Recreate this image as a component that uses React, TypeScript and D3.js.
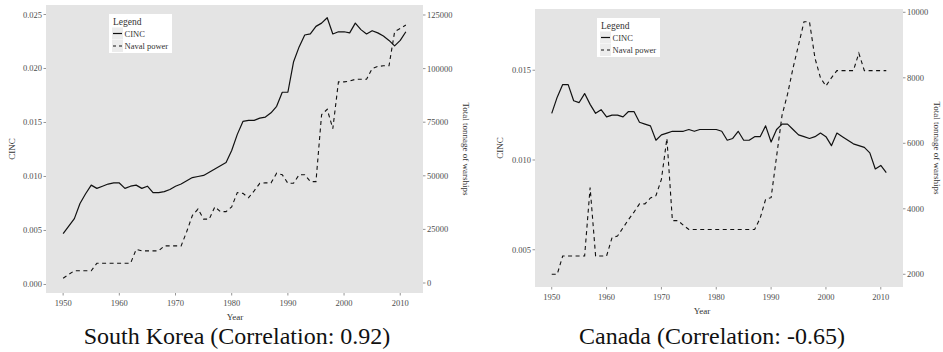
import React from 'react';
import * as d3 from 'd3';

const years = [
  1950, 1951, 1952, 1953, 1954, 1955, 1956, 1957, 1958, 1959,
  1960, 1961, 1962, 1963, 1964, 1965, 1966, 1967, 1968, 1969,
  1970, 1971, 1972, 1973, 1974, 1975, 1976, 1977, 1978, 1979,
  1980, 1981, 1982, 1983, 1984, 1985, 1986, 1987, 1988, 1989,
  1990, 1991, 1992, 1993, 1994, 1995, 1996, 1997, 1998, 1999,
  2000, 2001, 2002, 2003, 2004, 2005, 2006, 2007, 2008, 2009,
  2010, 2011,
];

const koreaCinc = [
  0.0047, 0.0054, 0.0061, 0.0075, 0.0084, 0.0092, 0.0089, 0.0091, 0.0093, 0.0094,
  0.0094, 0.0089, 0.0091, 0.0092, 0.0089, 0.0091, 0.0085, 0.0085, 0.0086, 0.0088,
  0.0091, 0.0093, 0.0096, 0.0099, 0.0100, 0.0101, 0.0104, 0.0107, 0.0110, 0.0113,
  0.0124, 0.0139, 0.0151, 0.0152, 0.0152, 0.0154, 0.0155, 0.0159, 0.0165, 0.0178,
  0.0178, 0.0206, 0.0220, 0.0231, 0.0232, 0.0239, 0.0242, 0.0247, 0.0232, 0.0234,
  0.0234, 0.0233, 0.0242, 0.0236, 0.0232, 0.0235, 0.0233, 0.0230, 0.0226, 0.0221,
  0.0226, 0.0234,
];

const koreaNaval = [
  2200, 4000, 5700, 5700, 5700, 5700, 9200, 9200, 9200, 9200,
  9200, 9200, 9200, 15700, 15000, 15000, 15000, 15000, 17300, 17300,
  17300, 17300, 24000, 31500, 34500, 29800, 29800, 35500, 33300, 33300,
  35500, 42200, 41800, 39800, 43000, 46500, 46700, 46700, 51200, 50500,
  46500, 46500, 50500, 50500, 47300, 47300, 78500, 81000, 72000, 93800,
  93800, 94200, 95000, 95000, 95000, 100000, 101000, 101300, 101300, 117200,
  118700, 120300,
];

const canadaCinc = [
  0.0126, 0.0135, 0.0142, 0.0142, 0.0133, 0.0132, 0.0137, 0.0131, 0.0126, 0.0128,
  0.0124, 0.0125, 0.0125, 0.0124, 0.0127, 0.0127, 0.0121, 0.0120, 0.0119, 0.0111,
  0.0114, 0.0115, 0.0116, 0.0116, 0.0116, 0.0117, 0.0116, 0.0117, 0.0117, 0.0117,
  0.0117, 0.0116, 0.0111, 0.0112, 0.0116, 0.0111, 0.0111, 0.0113, 0.0113, 0.0119,
  0.0110, 0.0117, 0.0120, 0.0120, 0.0117, 0.0114, 0.0113, 0.0112, 0.0113, 0.0115,
  0.0113, 0.0108, 0.0115, 0.0113, 0.0111, 0.0109, 0.0108, 0.0107, 0.0104, 0.0095,
  0.0097, 0.0093,
];

const canadaNaval = [
  2000, 2000, 2560, 2560, 2560, 2560, 2560, 4650, 2560, 2560,
  2560, 3120, 3170, 3420, 3670, 3900, 4150, 4150, 4330, 4400,
  4900, 6150, 3640, 3640, 3500, 3370, 3370, 3370, 3370, 3370,
  3370, 3370, 3370, 3370, 3370, 3370, 3370, 3370, 3710, 4290,
  4340, 5600, 6860, 7500, 8300, 9000, 9710, 9710, 8600, 8000,
  7750, 8000, 8220, 8220, 8220, 8220, 8750, 8220, 8220, 8220,
  8220, 8220,
];

const xTicks = [1950, 1960, 1970, 1980, 1990, 2000, 2010];
const koreaLeftTicks = [0, 0.005, 0.01, 0.015, 0.02, 0.025];
const koreaRightTicks = [0, 25000, 50000, 75000, 100000, 125000];
const canadaLeftTicks = [0.005, 0.01, 0.015];
const canadaRightTicks = [2000, 4000, 6000, 8000, 10000];

const titles = ['South Korea (Correlation: 0.92)', 'Canada (Correlation: -0.65)'];
const legendLabels = ['CINC', 'Naval power'];

const FONT = "'Liberation Serif', 'Times New Roman', 'DejaVu Serif', serif";
const PANEL_BG = '#e4e4e4';
const TICK_COLOR = '#4d4d4d';
const TEXT_COLOR = '#333333';

type PanelProps = {
  left: number;
  right: number;
  top: number;
  bottom: number;
  cinc: number[];
  naval: number[];
  leftDomain: [number, number];
  rightDomain: [number, number];
  leftTicks: number[];
  rightTicks: number[];
  leftTitleX: number;
  rightTitleX: number;
  legendX: number;
  legendY: number;
  title: string;
  titleX: number;
  yearX: number;
};

function Panel(p: PanelProps) {
  const x = d3.scaleLinear().domain([1950 - 3.05, 2011 + 3.05]).range([p.left, p.right]);
  const yL = d3.scaleLinear().domain(p.leftDomain).range([p.bottom, p.top]);
  const yR = d3.scaleLinear().domain(p.rightDomain).range([p.bottom, p.top]);

  const cincLine = d3
    .line<number>()
    .x((_, i) => x(years[i]))
    .y((d) => yL(d));
  const navalLine = d3
    .line<number>()
    .x((_, i) => x(years[i]))
    .y((d) => yR(d));

  const midY = (p.top + p.bottom) / 2;
  const fmtL = d3.format('.3f');

  return (
    <g fontFamily={FONT}>
      <rect x={p.left} y={p.top} width={p.right - p.left} height={p.bottom - p.top} fill={PANEL_BG} />
      <path d={cincLine(p.cinc) || ''} fill="none" stroke="#111" strokeWidth={1.2} strokeLinejoin="round" />
      <path
        d={navalLine(p.naval) || ''}
        fill="none"
        stroke="#111"
        strokeWidth={1.1}
        strokeDasharray="4,3.5"
      />

      {p.leftTicks.map((t) => (
        <g key={'l' + t}>
          <line x1={p.left - 2.5} x2={p.left} y1={yL(t)} y2={yL(t)} stroke={TICK_COLOR} strokeWidth={0.6} />
          <text
            x={p.left - 4}
            y={yL(t)}
            textAnchor="end"
            dominantBaseline="central"
            fontSize={8.5}
            fill={TICK_COLOR}
          >
            {fmtL(t)}
          </text>
        </g>
      ))}

      {p.rightTicks.map((t) => (
        <g key={'r' + t}>
          <line x1={p.right} x2={p.right + 2.5} y1={yR(t)} y2={yR(t)} stroke={TICK_COLOR} strokeWidth={0.6} />
          <text
            x={p.right + 4}
            y={yR(t)}
            textAnchor="start"
            dominantBaseline="central"
            fontSize={8.5}
            fill={TICK_COLOR}
          >
            {String(t)}
          </text>
        </g>
      ))}

      {xTicks.map((t) => (
        <g key={'x' + t}>
          <line x1={x(t)} x2={x(t)} y1={p.bottom} y2={p.bottom + 2.5} stroke={TICK_COLOR} strokeWidth={0.6} />
          <text
            x={x(t)}
            y={p.bottom + 9.5}
            textAnchor="middle"
            dominantBaseline="central"
            fontSize={8.5}
            fill={TICK_COLOR}
          >
            {t}
          </text>
        </g>
      ))}

      <text
        x={p.yearX}
        y={p.bottom + 24}
        textAnchor="middle"
        dominantBaseline="central"
        fontSize={9}
        fill={TEXT_COLOR}
      >
        Year
      </text>
      <text
        transform={`translate(${p.leftTitleX},${midY}) rotate(-90)`}
        textAnchor="middle"
        dominantBaseline="central"
        fontSize={9}
        fill={TEXT_COLOR}
      >
        CINC
      </text>
      <text
        transform={`translate(${p.rightTitleX},${midY}) rotate(90)`}
        textAnchor="middle"
        dominantBaseline="central"
        fontSize={9}
        fill={TEXT_COLOR}
      >
        Total tonnage of warships
      </text>

      <g transform={`translate(${p.legendX},${p.legendY})`}>
        <rect x={0} y={0} width={63} height={39} fill="#ffffff" />
        <text x={4} y={7.5} dominantBaseline="central" fontSize={9.5} fill={TEXT_COLOR}>
          Legend
        </text>
        {legendLabels.map((lab, i) => {
          const cy = 19.5 + i * 12.5;
          return (
            <g key={lab}>
              <rect x={3} y={cy - 6} width={11} height={12} fill="#ececec" />
              <line
                x1={4}
                x2={13}
                y1={cy}
                y2={cy}
                stroke="#111"
                strokeWidth={1.2}
                strokeDasharray={i === 1 ? '3,3' : undefined}
              />
              <text x={15.5} y={cy} dominantBaseline="central" fontSize={8.5} fill={TEXT_COLOR}>
                {lab}
              </text>
            </g>
          );
        })}
      </g>

      <text x={p.titleX} y={344} textAnchor="middle" fontSize={24} fill="#111">
        {p.title}
      </text>
    </g>
  );
}

export default function App() {
  return (
    <svg
      width={943}
      height={352}
      style={{ position: 'absolute', left: 0, top: 0, background: '#ffffff' }}
    >
      <rect x={0} y={0} width={943} height={352} fill="#ffffff" />
      <Panel
        left={46}
        right={423}
        top={5}
        bottom={293}
        cinc={koreaCinc}
        naval={koreaNaval}
        leftDomain={[-0.00079, 0.02588]}
        rightDomain={[-4664, 129664]}
        leftTicks={koreaLeftTicks}
        rightTicks={koreaRightTicks}
        leftTitleX={12}
        rightTitleX={466}
        legendX={109}
        legendY={14}
        title={titles[0]}
        titleX={237}
        yearX={235}
      />
      <Panel
        left={535}
        right={903}
        top={9}
        bottom={287}
        cinc={canadaCinc}
        naval={canadaNaval}
        leftDomain={[0.002925, 0.018412]}
        rightDomain={[1612, 10101]}
        leftTicks={canadaLeftTicks}
        rightTicks={canadaRightTicks}
        leftTitleX={500}
        rightTitleX={937}
        legendX={597}
        legendY={18}
        title={titles[1]}
        titleX={712}
        yearX={702}
      />
    </svg>
  );
}
